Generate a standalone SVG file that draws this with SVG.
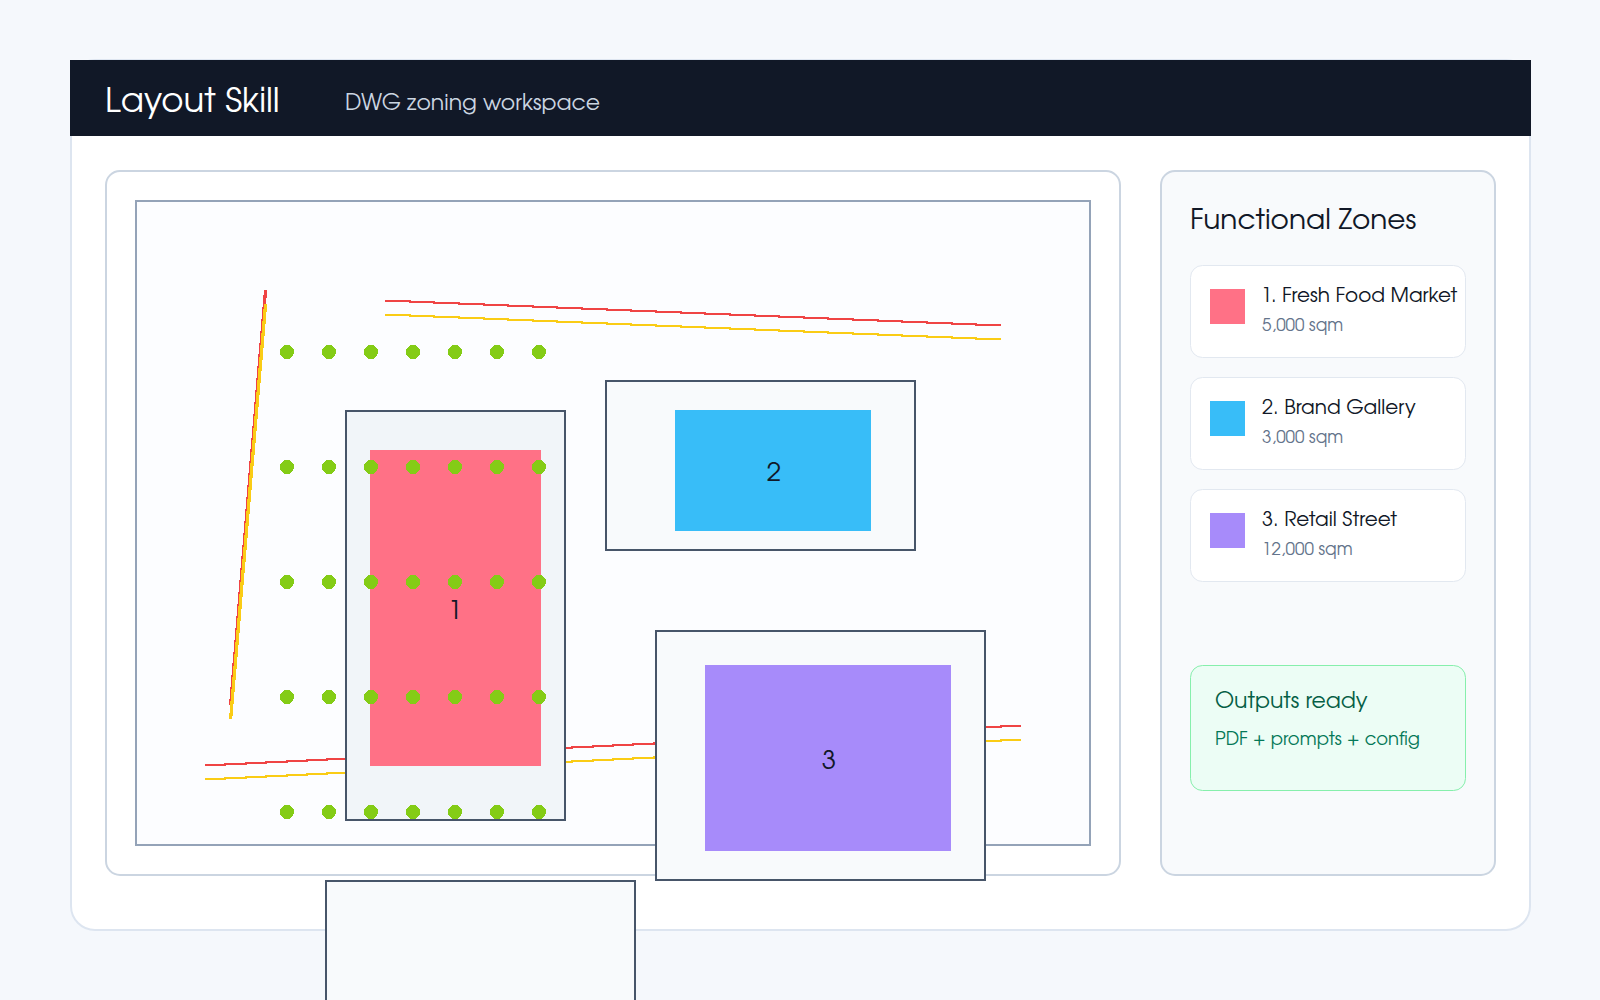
<svg xmlns="http://www.w3.org/2000/svg" width="1600" height="1000" viewBox="0 0 1600 1000">
<style>
text{font-family:"TeX Gyre Adventor","Didact Gothic","Lato",sans-serif}
.cad{fill:#f8fafc;stroke:#475569;stroke-width:2}
.card{fill:#fff;stroke:#e2e8f0;stroke-width:1}
.name{font-size:20px;fill:#111827}
.sqm{font-size:17px;fill:#64748b}
.num{font-size:26px;fill:#111827;text-anchor:middle}
.r{fill:none;stroke:#ef4444;stroke-width:2;shape-rendering:crispEdges}
.y{fill:none;stroke:#facc15;stroke-width:2;shape-rendering:crispEdges}
.w3{stroke-width:3}
.dot{fill:#84cc16;shape-rendering:crispEdges}
</style>
<defs>
<circle id="d" r="7" class="dot"/>
<path id="a" d="M265.5 290V296H264.5V308H263.5V320H262.5V332H261.5V344H260.5V355H259.5V367H258.5V379H257.5V391H256.5V403H255.5V415H254.5V427H253.5V439H252.5V450H251.5V462H250.5V474H249.5V486H248.5V498H247.5V510H246.5V522H245.5V534H244.5V546H243.5V557H242.5V569H241.5V581H240.5V593H239.5V605H238.5V617H237.5V629H236.5V641H235.5V653H234.5V664H233.5V676H232.5V688H231.5V700H230.5V705"/>
<path id="b" d="M385 301H410V302H434V303H459V304H484V305H508V306H533V307H557V308H582V309H607V310H631V311H656V312H681V313H705V314H730V315H755V316H779V317H804V318H828V319H853V320H878V321H902V322H927V323H952V324H976V325H1001"/>
<path id="c" d="M205 765H225V764H246V763H266V762H287V761H307V760H327V759H348V758H368V757H389V756H409V755H429V754H450V753H470V752H491V751H511V750H531V749H552V748H572V747H593V746H613V745H633V744H654V743H674V742H695V741H715V740H735V739H756V738H776V737H797V736H817V735H837V734H858V733H878V732H899V731H919V730H939V729H960V728H980V727H1001V726H1021"/>
</defs>
<rect width="1600" height="1000" fill="#f5f8fc"/>
<g id="shell">
<rect x="71" y="60" width="1459" height="870" rx="24" fill="#fff" stroke="#dde5f0" stroke-width="2"/>
<rect x="70" y="60" width="1461" height="76" fill="#111827"/>
<text x="105" y="112" font-size="34" fill="#fff">Layout Skill</text>
<text x="345" y="110" font-size="22" fill="#cbd5e1">DWG zoning workspace</text>
</g>
<g id="canvas">
<rect x="106" y="171" width="1014" height="704" rx="14" fill="#fff" stroke="#cbd5e1" stroke-width="2"/>
<rect x="136" y="201" width="954" height="644" fill="#fcfdff" stroke="#94a3b8" stroke-width="2"/>
</g>
<g id="connectors">
<use href="#a" class="r w3"/><use href="#a" class="y w3" y="14"/>
<use href="#b" class="r"/><use href="#b" class="y" y="14"/>
<use href="#c" class="r"/><use href="#c" class="y" y="14"/>
</g>
<g id="zone-1">
<rect x="346" y="411" width="219" height="409" fill="#f1f5f9" stroke="#475569" stroke-width="2"/>
<rect x="370" y="450" width="171" height="316" fill="#ff7186"/>
<text class="num" x="455" y="619">1</text>
</g>
<g id="zone-2">
<rect class="cad" x="606" y="381" width="309" height="169"/>
<rect x="675" y="410" width="196" height="121" fill="#38bdf8"/>
<text class="num" x="774" y="481">2</text>
</g>
<g id="zone-3">
<rect class="cad" x="656" y="631" width="329" height="249"/>
<rect x="705" y="665" width="246" height="186" fill="#a78bfa"/>
<text class="num" x="829" y="769">3</text>
</g>
<g id="zone-4">
<rect class="cad" x="326" y="881" width="309" height="200"/>
</g>
<g id="columns">
<use href="#d" x="287" y="352"/><use href="#d" x="329" y="352"/><use href="#d" x="371" y="352"/><use href="#d" x="413" y="352"/><use href="#d" x="455" y="352"/><use href="#d" x="497" y="352"/><use href="#d" x="539" y="352"/>
<use href="#d" x="287" y="467"/><use href="#d" x="329" y="467"/><use href="#d" x="371" y="467"/><use href="#d" x="413" y="467"/><use href="#d" x="455" y="467"/><use href="#d" x="497" y="467"/><use href="#d" x="539" y="467"/>
<use href="#d" x="287" y="582"/><use href="#d" x="329" y="582"/><use href="#d" x="371" y="582"/><use href="#d" x="413" y="582"/><use href="#d" x="455" y="582"/><use href="#d" x="497" y="582"/><use href="#d" x="539" y="582"/>
<use href="#d" x="287" y="697"/><use href="#d" x="329" y="697"/><use href="#d" x="371" y="697"/><use href="#d" x="413" y="697"/><use href="#d" x="455" y="697"/><use href="#d" x="497" y="697"/><use href="#d" x="539" y="697"/>
<use href="#d" x="287" y="812"/><use href="#d" x="329" y="812"/><use href="#d" x="371" y="812"/><use href="#d" x="413" y="812"/><use href="#d" x="455" y="812"/><use href="#d" x="497" y="812"/><use href="#d" x="539" y="812"/>
</g>
<g id="sidebar">
<rect x="1161" y="171" width="334" height="704" rx="14" fill="#f8fafc" stroke="#cbd5e1" stroke-width="2"/>
<text x="1190" y="229" font-size="28" fill="#111827">Functional Zones</text>
</g>
<g id="legend-1">
<rect class="card" x="1190.5" y="265.5" width="275" height="92" rx="12"/>
<rect x="1210" y="289" width="35" height="35" fill="#ff7186"/>
<text class="name" x="1261" y="302">1. Fresh Food Market</text>
<text class="sqm" x="1262" y="331">5,000 sqm</text>
</g>
<g id="legend-2">
<rect class="card" x="1190.5" y="377.5" width="275" height="92" rx="12"/>
<rect x="1210" y="401" width="35" height="35" fill="#38bdf8"/>
<text class="name" x="1262" y="414">2. Brand Gallery</text>
<text class="sqm" x="1262" y="443">3,000 sqm</text>
</g>
<g id="legend-3">
<rect class="card" x="1190.5" y="489.5" width="275" height="92" rx="12"/>
<rect x="1210" y="513" width="35" height="35" fill="#a78bfa"/>
<text class="name" x="1262" y="526">3. Retail Street</text>
<text class="sqm" x="1262" y="555">12,000 sqm</text>
</g>
<g id="outputs">
<rect x="1190.5" y="665.5" width="275" height="125" rx="12" fill="#ecfdf5" stroke="#86efac" stroke-width="1"/>
<text x="1215" y="708" font-size="22" fill="#065f46">Outputs ready</text>
<text x="1215" y="745" font-size="18" fill="#047857">PDF + prompts + config</text>
</g>
</svg>
